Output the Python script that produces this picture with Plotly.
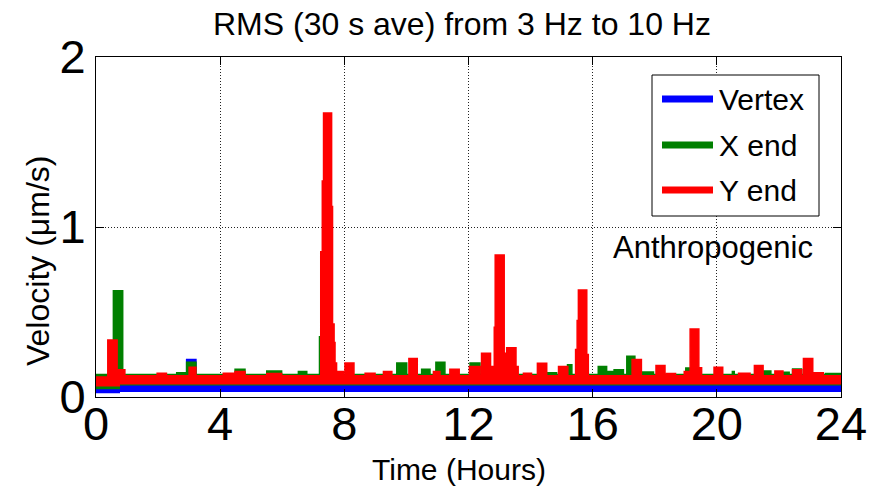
import plotly.graph_objects as go

HOURS_END = 24.0

# Vertex: baseline envelope (step breakpoints) and short events (start h, end h, peak um/s)
blue_hi_t = [0.0, 0.75]
blue_hi_v = [0.055, 0.080]
blue_lo_t = [0.0, 0.75]
blue_lo_v = [0.026, 0.034]
blue_start = [2.92, 7.35]
blue_end = [3.22, 7.65]
blue_peak = [0.22, 0.10]

# X end
green_hi_t = [0.0]
green_hi_v = [0.132]
green_lo_t = [0.0, 0.75]
green_lo_v = [0.050, 0.072]
green_start = [0.56, 2.60, 2.92, 4.48, 5.50, 6.52, 7.20, 9.69, 10.49, 10.95, 12.05,
               14.54, 15.19, 16.18, 16.45, 16.69, 17.10, 17.56, 19.00, 19.51, 20.50,
               21.48, 22.12, 22.44, 23.50]
green_end = [0.86, 2.90, 3.22, 4.80, 5.98, 6.79, 7.30, 10.01, 10.76, 11.24, 12.37,
             14.84, 15.33, 16.45, 16.69, 16.99, 17.36, 17.96, 19.14, 19.88, 20.56,
             21.74, 22.33, 22.73, 24.00]
green_peak = [0.625, 0.143, 0.205, 0.163, 0.153, 0.150, 0.355, 0.200, 0.163, 0.204, 0.200,
              0.143, 0.190, 0.180, 0.150, 0.160, 0.240, 0.147, 0.170, 0.135, 0.150,
              0.153, 0.145, 0.165, 0.138]

# Y end
red_hi_t = [0.0, 0.75]
red_hi_v = [0.118, 0.125]
red_lo_t = [0.0, 0.75]
red_lo_v = [0.066, 0.078]
red_start = [0.38, 0.68, 1.97, 3.00, 4.10, 4.48, 5.50,
             7.24, 7.29, 7.33, 7.59, 7.62, 7.67, 7.70, 7.75,
             8.02, 8.67, 9.26, 10.08, 10.87, 11.40, 12.03, 12.42, 12.75,
             12.83, 12.86, 13.15, 13.23, 13.53, 13.77, 14.22, 14.90,
             15.45, 15.50, 15.54, 15.81, 17.27, 18.04, 18.38, 18.95, 19.14, 19.42,
             19.91, 20.70, 21.21, 21.87, 22.44, 22.79, 23.13]
red_end = [0.68, 0.93, 2.27, 3.22, 4.48, 4.80, 5.98,
           7.29, 7.33, 7.59, 7.62, 7.67, 7.70, 7.75, 7.97,
           8.31, 8.99, 9.53, 10.35, 11.08, 11.70, 12.37, 12.71, 12.83,
           12.86, 13.15, 13.23, 13.53, 13.60, 14.03, 14.52, 15.20,
           15.50, 15.54, 15.81, 15.86, 17.57, 18.33, 18.67, 19.14, 19.42, 19.51,
           20.19, 21.07, 21.49, 22.13, 22.73, 23.09, 23.43]
red_peak = [0.335, 0.160, 0.140, 0.175, 0.140, 0.150, 0.138,
            0.855, 1.270, 1.670, 1.120, 0.430, 0.320, 0.200, 0.150,
            0.200, 0.140, 0.150, 0.227, 0.150, 0.163, 0.180, 0.257, 0.180,
            0.410, 0.835, 0.257, 0.290, 0.180, 0.140, 0.198, 0.180,
            0.280, 0.450, 0.630, 0.250, 0.220, 0.186, 0.138, 0.150, 0.400, 0.172,
            0.175, 0.140, 0.185, 0.153, 0.160, 0.227, 0.142]

x_ticks = [0, 4, 8, 12, 16, 20, 24]
y_ticks = [0, 1, 2]

FONT = "Liberation Sans, Arial, Helvetica, sans-serif"
BLUE = "rgb(0,0,255)"
GREEN = "rgb(0,128,0)"
RED = "rgb(255,0,0)"


def base_at(t, base_t, base_v):
    v = base_v[0]
    for bt, bv in zip(base_t, base_v):
        if t >= bt:
            v = bv
    return v


def envelope(base_t, base_v, starts=(), ends=(), peaks=()):
    cuts = sorted(set([0.0, HOURS_END] + list(base_t) + list(starts) + list(ends)))
    xs, ys = [], []
    for a, b in zip(cuts[:-1], cuts[1:]):
        mid = 0.5 * (a + b)
        v = base_at(mid, base_t, base_v)
        for s, e, p in zip(starts, ends, peaks):
            if s <= mid < e:
                v = max(v, p)
        xs += [a, b]
        ys += [v, v]
    return xs, ys


def band(hi_t, hi_v, lo_t, lo_v, starts, ends, peaks, color, name):
    xh, yh = envelope(hi_t, hi_v, starts, ends, peaks)
    xl, yl = envelope(lo_t, lo_v)
    return go.Scatter(
        x=xh + xl[::-1], y=yh + yl[::-1], mode="lines", fill="toself",
        fillcolor=color, line=dict(color=color, width=1.5),
        name=name, showlegend=False, hoverinfo="skip",
    )


fig = go.Figure()
fig.add_trace(band(blue_hi_t, blue_hi_v, blue_lo_t, blue_lo_v,
                   blue_start, blue_end, blue_peak, BLUE, "Vertex"))
fig.add_trace(band(green_hi_t, green_hi_v, green_lo_t, green_lo_v,
                   green_start, green_end, green_peak, GREEN, "X end"))
fig.add_trace(band(red_hi_t, red_hi_v, red_lo_t, red_lo_v,
                   red_start, red_end, red_peak, RED, "Y end"))

# plot area in pixels: x 96..841, y 57..397
L, R, T, B = 96, 841, 57, 397


def px(x):
    return (x - L) / (R - L)


def py(y):
    return (B - y) / (B - T)


axis_common = dict(
    showline=True, linecolor="black", linewidth=1, mirror="allticks",
    ticks="inside", ticklen=8, tickcolor="black", tickwidth=1,
    showgrid=True, gridcolor="#222222", gridwidth=1, griddash="1px,2px",
    zeroline=False, tickfont=dict(family=FONT, size=47, color="black"),
)

fig.update_layout(
    width=879, height=492,
    margin=dict(l=L, r=879 - R, t=T, b=492 - B),
    paper_bgcolor="white", plot_bgcolor="white",
    showlegend=False,
    xaxis=dict(range=[0, 24], tickvals=x_ticks, ticktext=[str(v) for v in x_ticks],
               ticklabelstandoff=-14, **axis_common),
    yaxis=dict(range=[0, 2], tickvals=y_ticks, ticktext=[str(v) for v in y_ticks],
               **axis_common),
)

# legend box drawn as shapes + text
legend_items = [("Vertex", BLUE, 99), ("X end", GREEN, 145), ("Y end", RED, 190)]
fig.add_shape(type="rect", xref="paper", yref="paper",
              x0=px(652), x1=px(819), y0=py(216), y1=py(75),
              line=dict(color="black", width=1), fillcolor="white", layer="above")
for label, color, yy in legend_items:
    fig.add_shape(type="line", xref="paper", yref="paper",
                  x0=px(662), x1=px(713), y0=py(yy), y1=py(yy),
                  line=dict(color=color, width=7), layer="above")
    fig.add_annotation(xref="paper", yref="paper", x=px(717), y=py(yy),
                       text=label, showarrow=False, xanchor="left", yanchor="middle",
                       font=dict(family=FONT, size=30, color="black"))

texts = [
    ("RMS (30 s ave) from 3 Hz to 10 Hz", 462, 24, 0, 32),
    ("Time (Hours)", 459, 470, 0, 30),
    ("Velocity (\u03bcm/s)", 38, 261, -90, 32),
    ("Anthropogenic", 713, 247, 0, 31),
]
for txt, xx, yy, ang, size in texts:
    fig.add_annotation(xref="paper", yref="paper", x=px(xx), y=py(yy), text=txt,
                       showarrow=False, xanchor="center", yanchor="middle",
                       textangle=ang, font=dict(family=FONT, size=size, color="black"))

fig.write_html("out.html")
